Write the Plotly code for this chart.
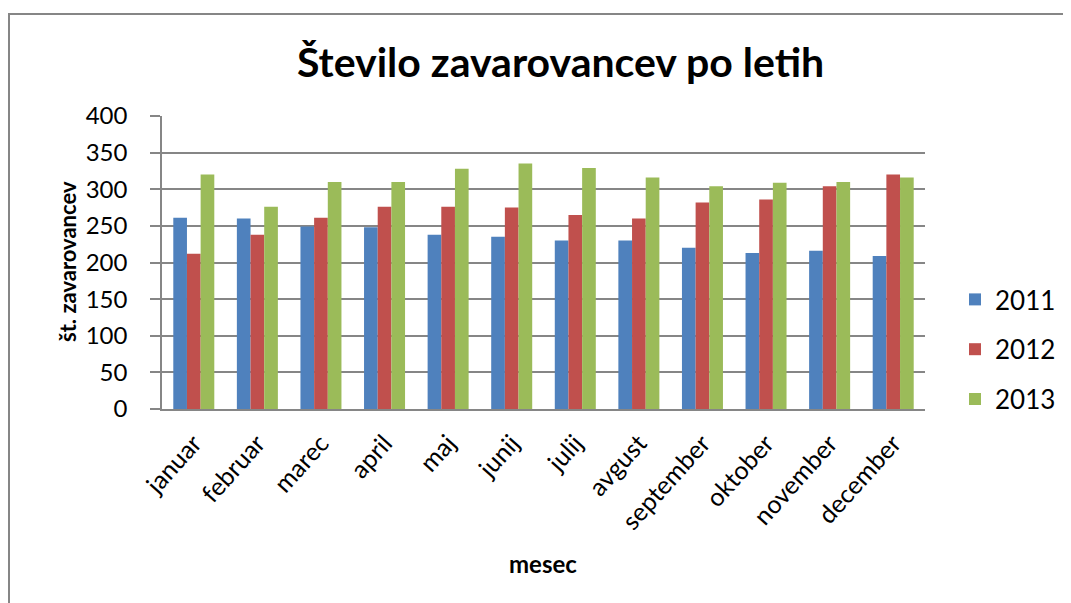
import plotly.graph_objects as go

# ------------------------------------------------------ #
#                       Podatki                          #
# ------------------------------------------------------ #
meseci = ["januar", "februar", "marec", "april", "maj", "junij",
          "julij", "avgust", "september", "oktober", "november", "december"]

leto_2011 = [261, 260, 249, 248, 238, 235, 230, 230, 220, 213, 216, 209]
leto_2012 = [212, 238, 261, 276, 276, 275, 265, 260, 282, 286, 304, 320]
leto_2013 = [320, 276, 310, 310, 328, 335, 329, 316, 304, 309, 310, 316]

serije = [("2011", leto_2011, "#4F81BD"),
          ("2012", leto_2012, "#C0504D"),
          ("2013", leto_2013, "#9BBB59")]

FONT = "Lato, Open Sans, sans-serif"
GRID = "#868686"

# page has an 8px body margin, so work in reference pixels minus 8
OFF = 8
W, H = 1071 - OFF, 603 - OFF
L, R, T, B = 162 - OFF, 925 - OFF, 116 - OFF, 409 - OFF


def px_x(px):
    return (px - OFF - L) / (R - L)


def px_y(py):
    return (B - (py - OFF)) / (B - T)


fig = go.Figure()
for ime, vrednosti, barva in serije:
    fig.add_trace(go.Bar(x=meseci, y=vrednosti, name=ime, marker_color=barva,
                         marker_line_width=0, legendgroup=ime))

fig.update_layout(
    width=W, height=H,
    margin=dict(l=L, r=W - R, t=T, b=H - B, autoexpand=False),
    plot_bgcolor="white", paper_bgcolor="white",
    barmode="group", bargap=0.355, bargroupgap=0,
    font=dict(family=FONT, color="black"),
    showlegend=True,
    legend=dict(x=px_x(955), y=px_y(276), xanchor="left", yanchor="top",
                font=dict(size=26, family=FONT), tracegroupgap=13,
                bgcolor="rgba(0,0,0,0)"),
    xaxis=dict(showline=True, linecolor=GRID, linewidth=1.5, ticks="",
               tickangle=-48, tickfont=dict(size=25), showgrid=False,
               ticklabelstandoff=8),
    yaxis=dict(range=[0, 400], dtick=50, showline=True, linecolor=GRID, linewidth=1.5,
               ticks="outside", ticklen=10, tickcolor=GRID, tickwidth=1.5,
               ticklabelstandoff=18,
               gridcolor=GRID, gridwidth=1.5, tickfont=dict(size=24), zeroline=False),
)

# okvir grafikona
fig.add_shape(type="rect", xref="paper", yref="paper",
              x0=px_x(OFF + 1), x1=px_x(1090), y0=px_y(620), y1=px_y(14),
              line=dict(color=GRID, width=2), layer="below")

fig.add_annotation(text="<b>Število zavarovancev po letih</b>", xref="paper", yref="paper",
                   x=px_x(560), y=px_y(62), xanchor="center", yanchor="middle",
                   showarrow=False, font=dict(size=41, family=FONT))
fig.add_annotation(text="<b>št. zavarovancev</b>", xref="paper", yref="paper",
                   x=px_x(67), y=px_y(262), xanchor="center", yanchor="middle",
                   showarrow=False, textangle=-90, font=dict(size=22, family=FONT))
fig.add_annotation(text="<b>mesec</b>", xref="paper", yref="paper",
                   x=px_x(543), y=px_y(563), xanchor="center", yanchor="middle",
                   showarrow=False, font=dict(size=24, family=FONT))

fig.write_html("out.html")
